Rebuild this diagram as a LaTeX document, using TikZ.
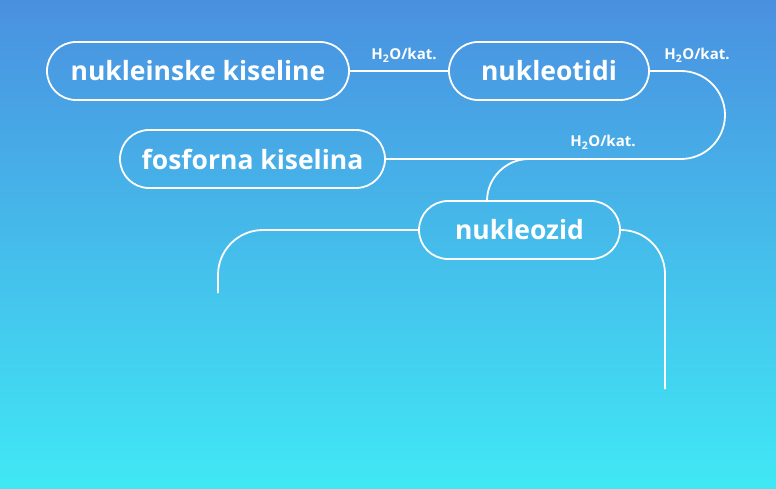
\documentclass[tikz,border=0pt]{standalone}
\usepackage{fontspec}
\setmainfont{Open Sans}
\definecolor{bgtop}{RGB}{74,144,224}
\definecolor{bgbot}{RGB}{64,232,245}
\tikzset{
        pill/.style = {rectangle, rounded corners=29pt, draw=white, line width=1.8pt, minimum height=58pt, inner sep=0pt, text=white, font=\fontsize{26.5}{30}\selectfont\bfseries},
        lbl/.style = {text=white, inner sep=0pt, font=\fontsize{15}{17}\selectfont\bfseries},
        link/.style = {draw=white, line width=1.8pt}
    }
\begin{document}
\begin{tikzpicture}[x=1pt,y=-1pt]
            \shade[top color=bgtop,bottom color=bgbot] (0,0) rectangle (776,489);
            \useasboundingbox (0,0) rectangle (776,489);

            \node[pill,minimum width=302pt] (nk) at (198, 71) {nukleinske kiseline};
            \node[pill,minimum width=200pt] (nt) at (549, 71) {nukleotidi};
            \node[pill,minimum width=265pt] (fk) at (252.5, 159) {fosforna kiselina};
            \node[pill,minimum width=201pt] (nz) at (519.5, 230) {nukleozid};

            \coordinate (e1) at (218, 293);
            \coordinate (e2) at (665, 389);

            \draw[link] (nk.east) -- (nt.west);
            \draw[link,rounded corners=44pt] (nt.east) -- (725, 71) -- (725, 159) -- (fk.east);
            \draw[link,rounded corners=42pt] (nz.north -| 487, 0) -- (487, 159) -- (532, 159);
            \draw[link,rounded corners=45pt] (nz.west) -- (e1 |- nz.west) -- (e1);
            \draw[link,rounded corners=44pt] (nz.east) -- (e2 |- nz.east) -- (e2);

            \node[lbl] (k1) at (404, 55) {H\textsubscript{2}O/kat.};
            \node[lbl] (k2) at (697, 55) {H\textsubscript{2}O/kat.};
            \node[lbl] (k3) at (603, 142) {H\textsubscript{2}O/kat.};
        \end{tikzpicture}
\end{document}
